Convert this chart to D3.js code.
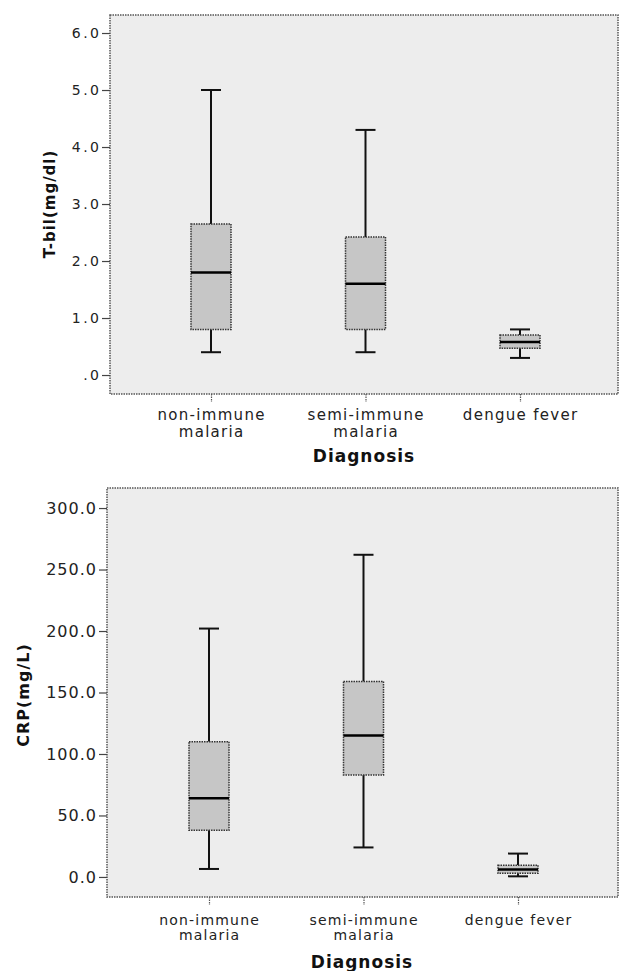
<!DOCTYPE html>
<html><head><meta charset="utf-8">
<script src="https://cdn.jsdelivr.net/npm/d3@7/dist/d3.min.js"></script>
<style>html,body{margin:0;padding:0;background:#fff;}svg{display:block;}</style>
</head><body>
<svg id="chart" width="620" height="971"></svg>
<script>
// ---------- data ----------
const categories = ["non-immune malaria", "semi-immune malaria", "dengue fever"];
const categoryLines = [["non-immune", "malaria"], ["semi-immune", "malaria"], ["dengue fever"]];

const tbilMin    = [0.4, 0.4, 0.3];
const tbilQ1     = [0.8, 0.8, 0.47];
const tbilMedian = [1.8, 1.6, 0.58];
const tbilQ3     = [2.65, 2.42, 0.70];
const tbilMax    = [5.0, 4.3, 0.8];
const tbilTicks  = [0, 1, 2, 3, 4, 5, 6];
const tbilTickLabels = [".0", "1.0", "2.0", "3.0", "4.0", "5.0", "6.0"];

const crpMin    = [6.5, 24, 0.5];
const crpQ1     = [38, 83, 3];
const crpMedian = [64, 115, 6];
const crpQ3     = [110, 159, 9.5];
const crpMax    = [202, 262, 19];
const crpTicks  = [0, 50, 100, 150, 200, 250, 300];
const crpTickLabels = ["0.0", "50.0", "100.0", "150.0", "200.0", "250.0", "300.0"];

const xTitle = "Diagnosis";

// ---------- drawing ----------
const svg = d3.select("#chart");
const FONT = "'DejaVu Sans', Verdana, sans-serif";

function panel(cfg) {
  const g = svg.append("g");
  const x = d3.scalePoint().domain(categories).range(cfg.xRange);
  const y = d3.scaleLinear().domain(cfg.yDomain).range([cfg.bottom, cfg.top]);

  // plot frame
  g.append("rect")
    .attr("x", cfg.left).attr("y", cfg.top)
    .attr("width", cfg.right - cfg.left).attr("height", cfg.bottom - cfg.top)
    .attr("fill", "#ededed").attr("stroke", "#555").attr("stroke-width", 1.5)
    .attr("stroke-dasharray", "1.5,1");

  // y axis
  const yAxis = d3.axisLeft(y).tickValues(cfg.ticks)
    .tickFormat((d, i) => cfg.tickLabels[i]).tickSize(8).tickPadding(3);
  const ya = g.append("g").attr("transform", `translate(${cfg.left},0)`).call(yAxis);
  ya.select(".domain").remove();
  ya.selectAll(".tick line").attr("stroke", "#444").attr("stroke-width", 1.2);
  ya.selectAll(".tick text")
    .attr("font-family", FONT).attr("font-size", cfg.tickFont)
    .attr("fill", "#222").style("letter-spacing", cfg.tickSpacing + "px")
    .attr("dx", cfg.tickSpacing);

  // x axis
  const xAxis = d3.axisBottom(x).tickSize(8).tickFormat("");
  const xa = g.append("g").attr("transform", `translate(0,${cfg.bottom})`).call(xAxis);
  xa.select(".domain").remove();
  xa.selectAll(".tick line").attr("stroke", "#555").attr("stroke-width", 1.2)
    .attr("stroke-dasharray", "1.5,1");
  categories.forEach((c, i) => {
    const t = g.append("text")
      .attr("x", x(c)).attr("y", cfg.catY)
      .attr("text-anchor", "middle")
      .attr("font-family", FONT).attr("font-size", cfg.catFont)
      .attr("fill", "#222").style("letter-spacing", cfg.catSpacing + "px");
    categoryLines[i].forEach((line, j) => {
      t.append("tspan").attr("x", x(c) + cfg.catSpacing / 2)
        .attr("dy", j === 0 ? 0 : cfg.catLine).text(line);
    });
  });

  // x title
  g.append("text")
    .attr("x", cfg.xTitleX).attr("y", cfg.xTitleY)
    .attr("text-anchor", "middle").attr("font-family", FONT)
    .attr("font-weight", "bold").attr("font-size", 17).attr("fill", "#111")
    .style("letter-spacing", "1px").text(xTitle);

  // y title
  g.append("text")
    .attr("transform", `translate(${cfg.yTitleX},${(cfg.yTitleY)}) rotate(-90)`)
    .attr("text-anchor", "middle").attr("font-family", FONT)
    .attr("font-weight", "bold").attr("font-size", cfg.yTitleFont).attr("fill", "#111")
    .style("letter-spacing", cfg.yTitleSpacing + "px").text(cfg.yTitle);

  // boxes
  const boxW = 40, capW = 20;
  categories.forEach((c, i) => {
    const cx = x(c);
    const bg = g.append("g");
    // whiskers
    bg.append("line").attr("x1", cx).attr("x2", cx)
      .attr("y1", y(cfg.max[i])).attr("y2", y(cfg.q3[i]))
      .attr("stroke", "#111").attr("stroke-width", 2);
    bg.append("line").attr("x1", cx).attr("x2", cx)
      .attr("y1", y(cfg.q1[i])).attr("y2", y(cfg.min[i]))
      .attr("stroke", "#111").attr("stroke-width", 2);
    [cfg.max[i], cfg.min[i]].forEach(v => {
      bg.append("line").attr("x1", cx - capW / 2).attr("x2", cx + capW / 2)
        .attr("y1", y(v)).attr("y2", y(v))
        .attr("stroke", "#111").attr("stroke-width", 2);
    });
    // box
    bg.append("rect")
      .attr("x", cx - boxW / 2).attr("width", boxW)
      .attr("y", y(cfg.q3[i])).attr("height", y(cfg.q1[i]) - y(cfg.q3[i]))
      .attr("fill", "#c6c6c6").attr("stroke", "#333").attr("stroke-width", 1.5)
      .attr("stroke-dasharray", "1.5,1");
    // median
    bg.append("line").attr("x1", cx - boxW / 2).attr("x2", cx + boxW / 2)
      .attr("y1", y(cfg.median[i])).attr("y2", y(cfg.median[i]))
      .attr("stroke", "#000").attr("stroke-width", 2.5);
  });
}

panel({
  left: 110, right: 618, top: 15, bottom: 394,
  xRange: [211, 520],
  yDomain: [-0.333, 6.316],
  ticks: tbilTicks, tickLabels: tbilTickLabels,
  tickFont: 14, tickSpacing: 2.5,
  min: tbilMin, q1: tbilQ1, median: tbilMedian, q3: tbilQ3, max: tbilMax,
  catY: 420, catLine: 17, catFont: 15, catSpacing: 1.3,
  xTitleX: 364, xTitleY: 462,
  yTitle: "T-bil(mg/dl)", yTitleX: 55, yTitleY: 204, yTitleFont: 15, yTitleSpacing: 1
});

panel({
  left: 107, right: 618, top: 488, bottom: 897,
  xRange: [209, 518],
  yDomain: [-16.3, 316.3],
  ticks: crpTicks, tickLabels: crpTickLabels,
  tickFont: 16, tickSpacing: 1,
  min: crpMin, q1: crpQ1, median: crpMedian, q3: crpQ3, max: crpMax,
  catY: 925, catLine: 15, catFont: 14, catSpacing: 1.2,
  xTitleX: 362, xTitleY: 968,
  yTitle: "CRP(mg/L)", yTitleX: 29, yTitleY: 695, yTitleFont: 16, yTitleSpacing: 1
});
</script>
</body></html>
